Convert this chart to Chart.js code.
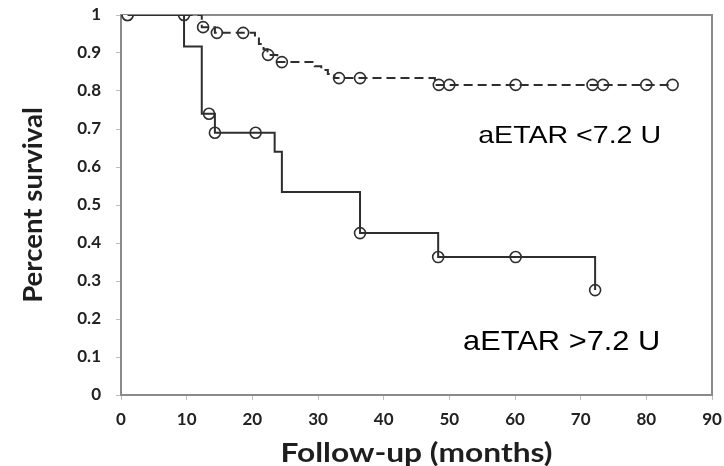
<!DOCTYPE html>
<html>
<head>
<meta charset="utf-8">
<script src="https://cdn.jsdelivr.net/npm/chart.js@4/dist/chart.umd.min.js"></script>
<style>
  html, body { margin: 0; padding: 0; background: #ffffff; }
  #wrap { width: 724px; height: 466px; }
</style>
</head>
<body>
<div id="wrap"><canvas id="km" width="724" height="466"></canvas></div>
<script>
// Kaplan-Meier survival by aETAR level (follow-up in months)

// aETAR > 7.2 U : step vertices of the survival curve
const highTime = [1, 9.6, 12.3, 14.3, 23.4, 24.5, 36.4, 48.3, 72.2];
const highSurv = [1, 0.917, 0.74, 0.69, 0.64, 0.534, 0.426, 0.363, 0.276];
// aETAR > 7.2 U : marked observations
const highMarkTime = [1, 9.6, 13.4, 14.3, 20.5, 36.4, 48.3, 60.1, 72.2];
const highMarkSurv = [1, 1, 0.74, 0.69, 0.69, 0.426, 0.363, 0.363, 0.276];

// aETAR < 7.2 U : step vertices of the survival curve
const lowTime = [1, 12.3, 14.3, 20.4, 21.0, 21.7, 22.3, 23.8, 29.5, 30.5, 31.5, 32.5, 47.8, 84];
const lowSurv = [1, 0.968, 0.953, 0.938, 0.924, 0.91, 0.895, 0.876, 0.865, 0.855, 0.845, 0.834, 0.816, 0.816];
// aETAR < 7.2 U : marked observations
const lowMarkTime = [1, 12.5, 14.6, 18.6, 22.4, 24.5, 33.2, 36.4, 48.4, 50, 60.1, 71.8, 73.4, 80, 84];
const lowMarkSurv = [1, 0.968, 0.953, 0.953, 0.895, 0.876, 0.834, 0.834, 0.816, 0.816, 0.816, 0.816, 0.816, 0.816, 0.816];

// axis ticks
const xTicks = [0, 10, 20, 30, 40, 50, 60, 70, 80, 90];
const yTicks = [0, 0.1, 0.2, 0.3, 0.4, 0.5, 0.6, 0.7, 0.8, 0.9, 1];

// axis titles
const xTitle = 'Follow-up (months)';
const yTitle = 'Percent survival';

// curve labels: text and anchor (months, survival) at left baseline
const curveLabels = [
  { text: 'aETAR <7.2 U', x: 54.4, y: 0.663, size: 24, stretch: 1.19 },
  { text: 'aETAR >7.2 U', x: 52.1, y: 0.118, size: 28, stretch: 1.1 }
];

const toPts = (xs, ys) => xs.map((x, i) => ({ x: x, y: ys[i] }));

const INK = '#2e2e2e';
const AXIS = '#8a8a8a';
const TITLE_FONT = 'bold 26px Lato, "Open Sans", sans-serif';

const framePlugin = {
  id: 'frame',
  beforeDatasetsDraw(chart) {
    const { ctx, chartArea: a } = chart;
    ctx.save();
    ctx.strokeStyle = AXIS;
    ctx.lineWidth = 2;
    ctx.strokeRect(a.left, a.top, a.right - a.left, a.bottom - a.top);
    ctx.restore();
  },
  afterDatasetsDraw(chart) {
    const { ctx, scales, chartArea: a } = chart;
    ctx.save();
    ctx.fillStyle = '#000';
    ctx.textBaseline = 'alphabetic';
    ctx.textAlign = 'left';
    curveLabels.forEach(l => {
      const px = scales.x.getPixelForValue(l.x);
      const py = scales.y.getPixelForValue(l.y);
      ctx.save();
      ctx.translate(px, py);
      ctx.scale(l.stretch, 1);
      ctx.font = l.size + 'px "Liberation Sans", Arial, sans-serif';
      ctx.fillText(l.text, 0, 0);
      ctx.restore();
    });

    // axis titles
    ctx.fillStyle = '#1e1e1e';
    ctx.font = TITLE_FONT;
    ctx.textAlign = 'center';
    ctx.save();
    ctx.translate((a.left + a.right) / 2, chart.height - 4);
    ctx.scale(1.22, 1);
    ctx.fillText(xTitle, 0, 0);
    ctx.restore();

    ctx.save();
    ctx.translate(42, (a.top + a.bottom) / 2);
    ctx.rotate(-Math.PI / 2);
    ctx.scale(1.06, 1);
    ctx.fillText(yTitle, 0, 0);
    ctx.restore();
    ctx.restore();
  }
};

const markerStyle = {
  showLine: false,
  pointRadius: 5.5,
  pointHoverRadius: 5.5,
  pointBackgroundColor: '#ffffff',
  pointBorderColor: INK,
  pointBorderWidth: 1.6
};

new Chart(document.getElementById('km'), {
  type: 'scatter',
  data: {
    datasets: [
      {
        label: 'aETAR <7.2 U',
        data: toPts(lowTime, lowSurv),
        showLine: true,
        stepped: 'before',
        borderColor: INK,
        borderWidth: 2,
        borderDash: [9, 5],
        pointRadius: 0,
        fill: false
      },
      Object.assign({ label: 'aETAR <7.2 U marks', data: toPts(lowMarkTime, lowMarkSurv) }, markerStyle),
      {
        label: 'aETAR >7.2 U',
        data: toPts(highTime, highSurv),
        showLine: true,
        stepped: 'before',
        borderColor: INK,
        borderWidth: 2,
        pointRadius: 0,
        fill: false
      },
      Object.assign({ label: 'aETAR >7.2 U marks', data: toPts(highMarkTime, highMarkSurv) }, markerStyle)
    ]
  },
  options: {
    responsive: false,
    animation: false,
    events: [],
    layout: { padding: { top: 15, right: 12, left: 0, bottom: 0 } },
    plugins: { legend: { display: false }, tooltip: { enabled: false } },
    scales: {
      x: {
        type: 'linear',
        min: 0, max: 90,
        afterBuildTicks(s) { s.ticks = xTicks.map(v => ({ value: v })); },
        afterFit(s) { s.height = 71; s.paddingLeft = 0; s.paddingRight = 0; },
        border: { display: false },
        grid: { display: true, drawOnChartArea: false, tickLength: 5, color: '#bdbdbd' },
        ticks: {
          padding: 9,
          color: '#222',
          font: { family: 'Lato', weight: 'bold', size: 17 },
          callback: v => String(v)
        },
        title: { display: false }
      },
      y: {
        type: 'linear',
        min: 0, max: 1,
        afterBuildTicks(s) { s.ticks = yTicks.map(v => ({ value: v })); },
        afterFit(s) { s.width = 121; s.paddingTop = 0; s.paddingBottom = 0; },
        border: { display: false },
        grid: { display: true, drawOnChartArea: false, tickLength: 5, color: '#bdbdbd' },
        ticks: {
          padding: 15,
          color: '#222',
          font: { family: 'Lato', weight: 'bold', size: 17 },
          callback: v => String(Math.round(v * 10) / 10)
        },
        title: { display: false }
      }
    }
  },
  plugins: [framePlugin]
});
</script>
</body>
</html>
